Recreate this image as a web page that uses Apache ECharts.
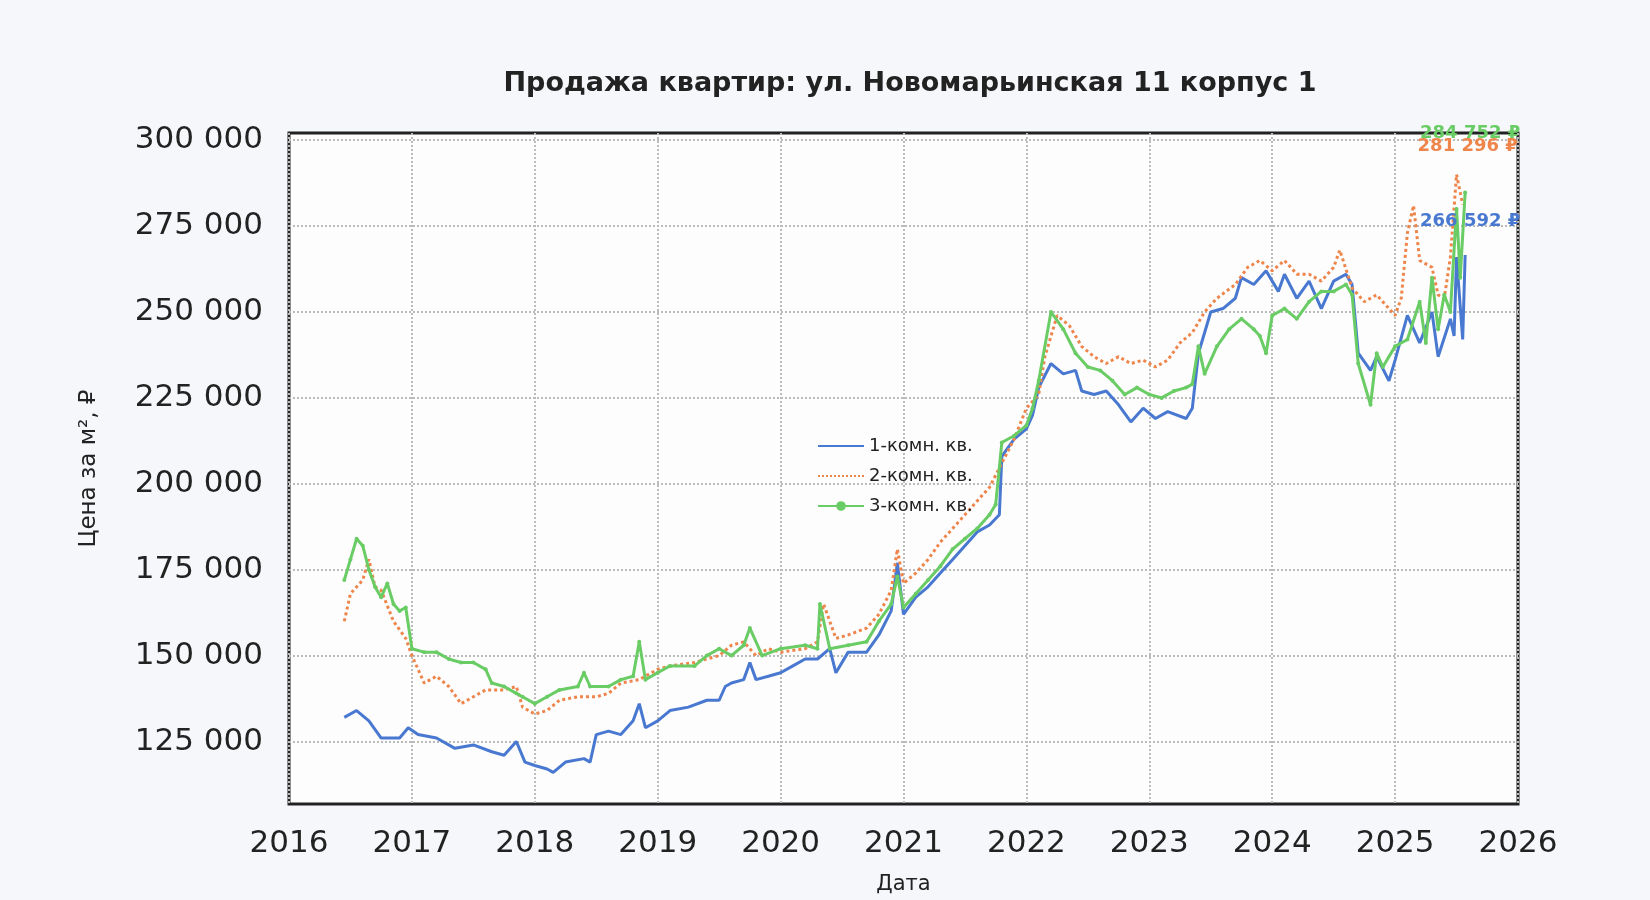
<!DOCTYPE html>
<html><head><meta charset="utf-8">
<script src="https://cdn.jsdelivr.net/npm/echarts@6/dist/echarts.min.js"></script>
<style>html,body{margin:0;background:#f5f7fb}#c{width:1650px;height:900px}</style>
</head><body><div id="c"></div>
<script>
const seriesNames = ['1-комн. кв.', '2-комн. кв.', '3-комн. кв.'];
const endLabels = ['266 592 ₽', '281 296 ₽', '284 752 ₽'];
const yTicks = [125000, 150000, 175000, 200000, 225000, 250000, 275000, 300000];
const room1 = [[2016.45,132],[2016.55,134],[2016.65,131],[2016.75,126],[2016.9,126],[2016.97,129],[2017.05,127],[2017.2,126],[2017.35,123],[2017.5,124],[2017.65,122],[2017.75,121],[2017.85,125],[2017.92,119],[2018.0,118],[2018.1,117],[2018.15,116],[2018.25,119],[2018.4,120],[2018.45,119],[2018.5,127],[2018.6,128],[2018.7,127],[2018.8,131],[2018.85,136],[2018.9,129],[2019.0,131],[2019.1,134],[2019.25,135],[2019.4,137],[2019.5,137],[2019.55,141],[2019.6,142],[2019.7,143],[2019.75,148],[2019.8,143],[2019.9,144],[2020.0,145],[2020.1,147],[2020.2,149],[2020.3,149],[2020.4,152],[2020.45,145],[2020.55,151],[2020.7,151],[2020.8,156],[2020.9,163],[2020.95,177],[2021.0,162],[2021.1,167],[2021.2,170],[2021.3,174],[2021.4,178],[2021.5,182],[2021.6,186],[2021.7,188],[2021.78,191],[2021.8,208],[2021.9,213],[2022.0,216],[2022.05,220],[2022.1,228],[2022.2,235],[2022.3,232],[2022.4,233],[2022.45,227],[2022.55,226],[2022.65,227],[2022.75,223],[2022.85,218],[2022.95,222],[2023.05,219],[2023.15,221],[2023.3,219],[2023.35,222],[2023.4,238],[2023.5,250],[2023.6,251],[2023.7,254],[2023.75,260],[2023.85,258],[2023.95,262],[2024.05,256],[2024.1,261],[2024.2,254],[2024.3,259],[2024.4,251],[2024.5,259],[2024.6,261],[2024.65,258],[2024.7,238],[2024.8,233],[2024.85,237],[2024.95,230],[2025.0,236],[2025.1,249],[2025.2,241],[2025.3,250],[2025.35,237],[2025.45,248],[2025.48,243],[2025.5,266],[2025.55,242],[2025.57,266.592]];
const room2 = [[2016.45,160],[2016.5,168],[2016.6,172],[2016.65,178],[2016.7,170],[2016.75,169],[2016.85,160],[2016.95,155],[2017.0,150],[2017.05,146],[2017.1,142],[2017.2,144],[2017.3,141],[2017.4,136],[2017.5,138],[2017.6,140],[2017.75,140],[2017.85,141],[2017.9,135],[2018.0,133],[2018.1,134],[2018.2,137],[2018.35,138],[2018.5,138],[2018.6,139],[2018.7,142],[2018.85,143],[2019.0,146],[2019.1,147],[2019.3,148],[2019.5,150],[2019.6,153],[2019.7,154],[2019.8,150],[2019.9,152],[2020.0,151],[2020.2,152],[2020.3,154],[2020.35,165],[2020.45,155],[2020.55,156],[2020.7,158],[2020.8,162],[2020.9,169],[2020.95,181],[2021.0,171],[2021.1,174],[2021.2,178],[2021.3,183],[2021.4,187],[2021.5,191],[2021.6,195],[2021.7,199],[2021.8,206],[2021.9,213],[2022.0,222],[2022.1,226],[2022.15,237],[2022.25,249],[2022.35,246],[2022.45,240],[2022.55,237],[2022.65,235],[2022.75,237],[2022.85,235],[2022.95,236],[2023.05,234],[2023.15,236],[2023.25,241],[2023.35,244],[2023.45,250],[2023.55,254],[2023.7,258],[2023.8,263],[2023.9,265],[2024.0,262],[2024.1,265],[2024.2,261],[2024.3,261],[2024.4,259],[2024.5,263],[2024.55,268],[2024.65,257],[2024.75,253],[2024.85,255],[2024.95,251],[2025.0,249],[2025.05,254],[2025.1,273],[2025.15,281],[2025.2,265],[2025.3,263],[2025.35,255],[2025.4,254],[2025.45,266],[2025.5,290],[2025.55,281.296]];
const room3 = [[2016.45,172],[2016.5,178],[2016.55,184],[2016.6,182],[2016.65,175],[2016.7,170],[2016.75,167],[2016.8,171],[2016.85,165],[2016.9,163],[2016.95,164],[2017.0,152],[2017.1,151],[2017.2,151],[2017.3,149],[2017.4,148],[2017.5,148],[2017.6,146],[2017.65,142],[2017.75,141],[2017.85,139],[2017.9,138],[2018.0,136],[2018.1,138],[2018.2,140],[2018.35,141],[2018.4,145],[2018.45,141],[2018.6,141],[2018.7,143],[2018.8,144],[2018.85,154],[2018.9,143],[2019.0,145],[2019.1,147],[2019.3,147],[2019.4,150],[2019.5,152],[2019.6,150],[2019.7,153],[2019.75,158],[2019.85,150],[2020.0,152],[2020.2,153],[2020.3,152],[2020.32,165],[2020.4,152],[2020.55,153],[2020.7,154],[2020.8,160],[2020.9,165],[2020.95,173],[2021.0,164],[2021.1,168],[2021.2,172],[2021.3,176],[2021.4,181],[2021.5,184],[2021.6,187],[2021.7,191],[2021.75,194],[2021.8,212],[2021.9,214],[2022.0,217],[2022.05,222],[2022.1,230],[2022.2,250],[2022.3,245],[2022.4,238],[2022.5,234],[2022.6,233],[2022.7,230],[2022.8,226],[2022.9,228],[2023.0,226],[2023.1,225],[2023.2,227],[2023.3,228],[2023.35,229],[2023.4,240],[2023.45,232],[2023.55,240],[2023.65,245],[2023.75,248],[2023.85,245],[2023.9,243],[2023.95,238],[2024.0,249],[2024.1,251],[2024.2,248],[2024.3,253],[2024.4,256],[2024.5,256],[2024.6,258],[2024.65,255],[2024.7,235],[2024.8,223],[2024.85,238],[2024.9,234],[2025.0,240],[2025.1,242],[2025.2,253],[2025.25,241],[2025.3,260],[2025.35,245],[2025.4,255],[2025.45,250],[2025.5,280],[2025.53,260],[2025.57,284.752]];
const colors = ['#4878d0', '#ee854a', '#6acc64'];
const labelOffsets = [[-3,-34],[-3,-58],[-3,-59]];
const toRub = d => d.map(p => [p[0], p[1]*1000]);
const fmt = v => String(Math.round(v)).replace(/\B(?=(\d{3})+(?!\d))/g, ' ');
const datasets = [room1, room2, room3];
const chart = echarts.init(document.getElementById('c'));
chart.setOption({
  backgroundColor: '#f5f7fb',
  animation: false,
  title: {text: 'Продажа квартир: ул. Новомарьинская 11 корпус 1', left: 905, top: 65, textAlign: 'center',
    textStyle: {fontFamily: 'DejaVu Sans', fontSize: 27, fontWeight: 'bold', color: '#222'}},
  legend: {orient: 'vertical', left: 812, top: 432, itemGap: 12, itemWidth: 46, itemHeight: 12,
    textStyle: {fontFamily: 'DejaVu Sans', fontSize: 18, color: '#222'},
    data: [{name: seriesNames[0], itemStyle: {opacity: 0}}, {name: seriesNames[1], itemStyle: {opacity: 0}}, {name: seriesNames[2]}]},
  grid: {left: 289, right: 132, top: 133, bottom: 78, show: true, backgroundColor: '#fdfdfe', borderColor: '#222', borderWidth: 3},
  xAxis: {type: 'value', min: 2016, max: 2026, interval: 1, name: 'Дата', nameLocation: 'middle', nameGap: 70,
    nameTextStyle: {fontFamily: 'DejaVu Sans', fontSize: 21, color: '#222'},
    axisLine: {show: false}, axisTick: {show: false},
    axisLabel: {fontFamily: 'DejaVu Sans', fontSize: 31, color: '#222', margin: 24, formatter: v => String(v)},
    splitLine: {lineStyle: {type: 'dotted', color: '#bbb', width: 2}}},
  yAxis: {type: 'value', min: 106800, max: 302100, name: 'Цена за м², ₽', nameLocation: 'middle', nameGap: 188,
    nameTextStyle: {fontFamily: 'DejaVu Sans', fontSize: 23, color: '#222'},
    axisLine: {show: false}, axisTick: {show: false, customValues: yTicks},
    axisLabel: {fontFamily: 'DejaVu Sans', fontSize: 31, color: '#222', margin: 26, customValues: yTicks, formatter: fmt},
    splitLine: {show: false}},
  series: datasets.map((d, i) => ({
    name: seriesNames[i], type: 'line', data: toRub(d), color: colors[i],
    showSymbol: i === 2, symbol: i === 2 ? 'circle' : 'none', symbolSize: 4,
    lineStyle: {width: 3, type: i === 1 ? 'dotted' : 'solid'},
    z: 3,
    markLine: i === 0 ? {silent: true, symbol: 'none', label: {show: false}, z: 1,
      lineStyle: {type: 'dotted', color: '#bbb', width: 2},
      data: yTicks.map(v => ({yAxis: v}))} : undefined,
    endLabel: {show: true, formatter: endLabels[i], color: colors[i], fontFamily: 'DejaVu Sans', fontWeight: 'bold', fontSize: 18,
      align: 'center', offset: labelOffsets[i]}
  }))
});
</script></body></html>
